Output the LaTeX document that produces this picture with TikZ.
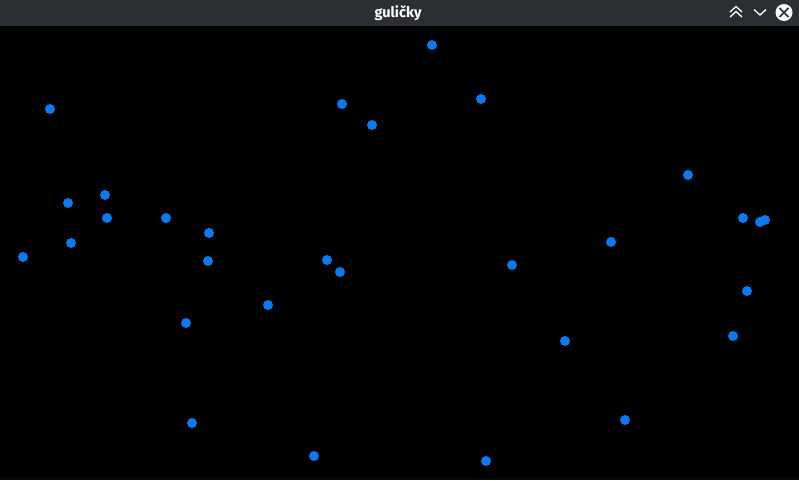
\documentclass[tikz,border=0pt]{standalone}
\usepackage{fontspec}
\setmainfont{Fira Sans}
\begin{document}
\begin{tikzpicture}[x=1pt, y=-1pt, ball/.style = {circle, fill={rgb,255:red,10;green,122;blue,240}, inner sep=0pt, minimum size=10pt}]
    \definecolor{barcol}{RGB}{43,46,51}
    \fill[black] (0,0) rectangle (799,480);
    \fill[barcol] (0,0) rectangle (799,26);
    \fill[black!85!barcol] (0,477) rectangle (799,480);
    \node[white, font=\bfseries\fontsize{14.5}{16}\selectfont] (title) at (398,13) {guličky};

    % window buttons
    \draw[white, line width=1.3pt] (730,12) -- (736,6.5) -- (742,12);
    \draw[white, line width=1.3pt] (730,17) -- (736,11.5) -- (742,17);
    \draw[white, line width=1.3pt] (754,9.5) -- (760,15) -- (766,9.5);
    \node[circle, fill=white, minimum size=17pt, inner sep=0pt] (close) at (784,12.5) {};
    \draw[barcol, line width=1.5pt] (close.center) ++(-4.5,-4.5) -- ++(9,9);
    \draw[barcol, line width=1.5pt] (close.center) ++(4.5,-4.5) -- ++(-9,9);

    % balls
    \foreach \x/\y [count=\i] in {432/45, 50/109, 342/104, 481/99, 372/125, 688/175,
        105/195, 68/203, 107/218, 166/218, 209/233, 743/218, 760/222, 765/220,
        23/257, 71/243, 208/261, 327/260, 340/272, 512/265, 611/242, 747/291,
        268/305, 186/323, 565/341, 733/336, 625/420, 192/423, 314/456, 486/461}
        \node[ball] (b\i) at (\x,\y) {};
\end{tikzpicture}
\end{document}
